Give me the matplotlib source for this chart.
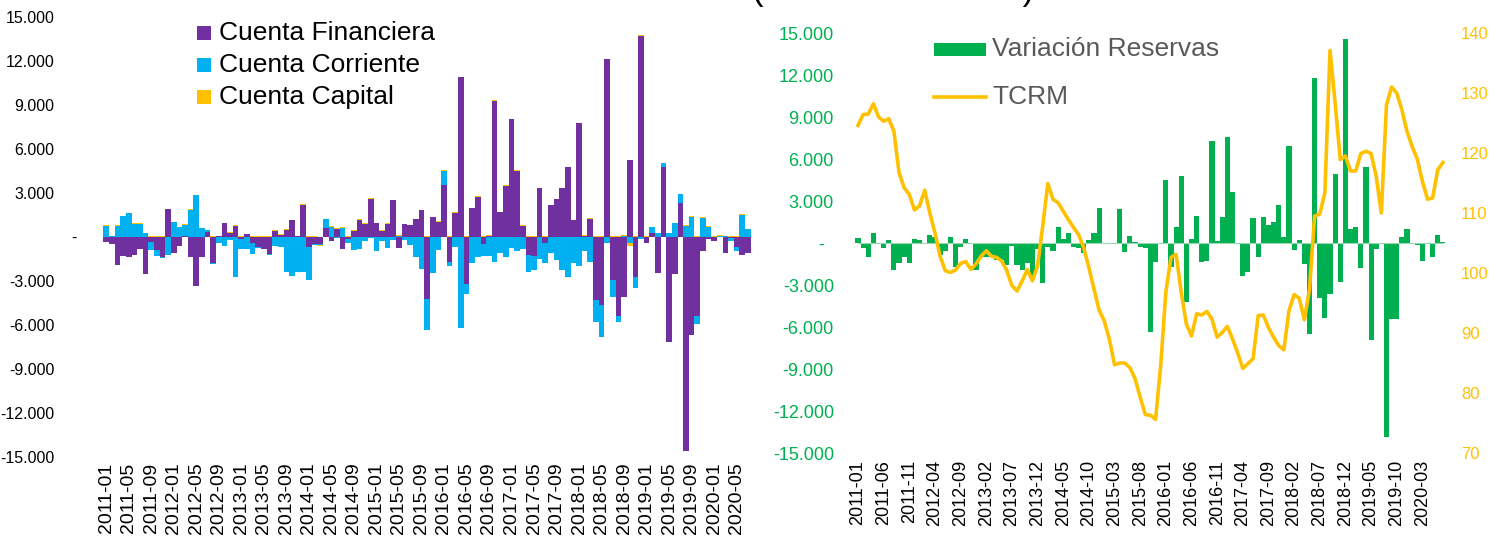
import matplotlib
matplotlib.use('Agg')
import matplotlib.pyplot as plt
from matplotlib.patches import Rectangle
from matplotlib.lines import Line2D
from matplotlib.ticker import FuncFormatter, FixedLocator

plt.rcParams['font.family'] = ['Liberation Sans', 'DejaVu Sans']

months = [f"{y}-{m:02d}" for y in range(2011, 2021) for m in range(1, 13)][:115]

cuenta_financiera = [
    -320, -500, -1900, -1300, -1370, -1220, -820, -2510, -360, -860,
    -1370, 1900, -1100, -600, 80, -1330, -3370, -1330, 320, -1740,
    50, 930, 300, 750, -140, 180, -390, -700, -800, -1140,
    430, 140, 480, 1140, 50, 2200, -700, -480, -480, 640,
    -300, 570, -840, -150, 410, 1180, 900, 2620, 930, 410,
    910, 2500, -730, 870, 800, 1200, 1810, -4240, 1330, 1030,
    3550, -1730, 1670, 10880, -3200, 1950, 2750, -480, 100, 9270,
    1680, 3480, 8020, 4520, 760, -1200, -1300, 3320, -390, 2160,
    2570, 3320, 4750, 1140, 7750, 100, 1230, -4300, -4630, 12110,
    -2940, -5370, -4110, 5230, -2750, 13730, -390, 250, -2480, 4800,
    -7160, -2520, 2340, -14570, -6680, -5390, -950, -150, -250, 0,
    -1110, -50, -660, -1250, -1110]

cuenta_corriente = [
    750, 50, 750, 1400, 1630, 900, 900, 260, -550, -450,
    -50, -1220, 1000, 670, 760, 1850, 2850, 580, 150, -110,
    -430, -590, -200, -2700, -660, -850, -770, -80, -50, -90,
    -610, -700, -2400, -2650, -2360, -2360, -2200, -50, -50, 570,
    700, -100, 640, -230, -890, -840, -300, -100, -930, -270,
    -730, -200, 90, -200, -560, -1340, -2160, -2110, -2450, -910,
    970, -230, -650, -6180, -680, -1750, -1340, -800, -1300, -1680,
    -1100, -1390, -750, -930, -800, -1200, -950, -1500, -1400, -1110,
    -1570, -2250, -2750, -1800, -1950, -950, -1680, -1500, -2200, -390,
    -1180, -400, 90, -390, -750, -110, 0, 410, 250, 230,
    250, 930, 570, 770, 1390, -520, 1320, 700, 0, 70,
    50, -250, -270, 1500, 520]

cuenta_capital = [
    40, 40, 40, 40, 40, 40, 40, 40, 40, 40,
    40, 40, 40, 40, 40, 40, 40, 40, 40, 40,
    40, 40, 40, 40, 40, 40, 40, 40, 40, 40,
    40, 40, 40, 40, 40, 40, 40, 40, -80, 40,
    40, 40, 40, 40, 40, 40, 40, 40, 40, 40,
    40, 40, 40, 40, 40, 40, 40, 40, 40, 40,
    40, 40, 40, 40, 40, 40, 40, 40, 40, 40,
    40, 40, 40, 40, 40, 40, 40, 40, 40, 40,
    40, 40, 40, 40, 40, 40, 40, 40, 40, 40,
    40, 40, 40, -200, 40, 40, 40, 40, 40, 40,
    40, 40, 40, 40, 40, 40, 40, 40, 40, 40,
    40, 40, 40, 40, 40]

variacion_reservas = [
    380, -380, -1020, 690, -100, -380, 210, -1930, -1450, -1020,
    -1450, 310, 210, 0, 600, 450, -860, -550, 400, -1700,
    -260, 260, -100, -1930, -1020, -1020, -1020, -1200, -1200, -1570,
    -200, -1570, -1930, -1450, -2400, -400, -2830, -300, -550, 1170,
    260, 690, -260, -380, -740, 210, 690, 2480, 0, 0,
    0, 2400, -670, 500, 70, -310, -380, -6330, -1380, 0,
    4500, -1690, 1170, 4790, -4190, 290, 1950, -1380, -1260, 7290,
    170, 1880, 7550, 3670, -100, -2330, -2050, 1790, -1020, 1830,
    1310, 1520, 2690, 450, 6930, -500, 210, -1500, -6520, 11760,
    -3900, -5380, -3670, 4930, -2790, 14570, 980, 1120, -1810, 5450,
    -6930, -450, 0, -13830, -5450, -5450, 450, 1020, 0, -140,
    -1260, 0, -1020, 600, 100]

tcrm = [
    124.6, 126.4, 126.5, 128.2, 126.0, 125.3, 125.7, 123.6, 116.7, 114.2,
    113.1, 110.5, 111.2, 113.8, 110.0, 106.7, 102.8, 100.4, 100.1, 100.5,
    101.6, 101.9, 100.6, 101.5, 102.8, 103.7, 102.8, 102.6, 102.0, 100.4,
    97.9, 97.0, 98.7, 100.6, 98.7, 101.2, 107.8, 114.9, 112.3, 111.7,
    110.3, 108.9, 107.6, 106.4, 104.2, 100.9, 97.3, 93.8, 92.0, 88.9,
    84.7, 85.0, 85.0, 84.2, 82.4, 79.3, 76.4, 76.3, 75.6, 84.6,
    96.8, 102.6, 103.1, 96.8, 91.5, 89.5, 93.2, 93.0, 93.6, 92.3,
    89.3, 90.1, 91.1, 89.0, 86.7, 84.1, 84.9, 85.7, 92.9, 93.0,
    90.9, 89.3, 87.9, 87.2, 93.7, 96.4, 95.8, 92.2, 97.3, 109.5,
    109.8, 113.4, 137.1, 128.3, 118.9, 119.5, 117.0, 117.0, 119.9, 120.3,
    119.9, 116.1, 110.0, 128.0, 131.0, 130.0, 127.2, 123.6, 121.1, 119.0,
    115.3, 112.3, 112.5, 117.2, 118.4]

C_FIN = '#7030A0'
C_CC = '#00B0F0'
C_CAP = '#FFC000'
C_RES = '#00B050'
C_TCRM = '#FFC000'
GRAY = '#595959'

W, H = 1505, 539
fig = plt.figure(figsize=(W / 100, H / 100), dpi=100)


def fbox(x0, y0, x1, y1):
    return [x0 / W, 1 - y1 / H, (x1 - x0) / W, (y1 - y0) / H]


def thousands(v, pos=None):
    return f"{v:,.0f}".replace(',', '.')


def dash(v, pos=None):
    return '-'


x = list(range(len(months)))
nonzero_ticks = [v for v in range(-15000, 15001, 3000) if v != 0]

# ---------------- left chart ----------------
ax1 = fig.add_axes(fbox(100, 17, 753, 457))
pos_bot = [0.0] * len(x)
neg_bot = [0.0] * len(x)
for vals, col in [(cuenta_financiera, C_FIN), (cuenta_corriente, C_CC), (cuenta_capital, C_CAP)]:
    bots = []
    for i, v in enumerate(vals):
        if v >= 0:
            bots.append(pos_bot[i]); pos_bot[i] += v
        else:
            bots.append(neg_bot[i]); neg_bot[i] += v
    ax1.bar(x, vals, bottom=bots, width=1.0, color=col, linewidth=0)
ax1.set_xlim(-1.1, 114.9)
ax1.set_ylim(-15000, 15000)
ax1.yaxis.set_major_locator(FixedLocator(nonzero_ticks))
ax1.yaxis.set_major_formatter(FuncFormatter(thousands))
ax1.yaxis.set_minor_locator(FixedLocator([0]))
ax1.yaxis.set_minor_formatter(FuncFormatter(dash))
ax1.set_xticks(x[::4])
ax1.set_xticklabels(months[::4], rotation=90, fontsize=14)
ax1.tick_params(axis='x', length=0, pad=4)
ax1.tick_params(axis='y', which='major', length=0, pad=33, labelsize=11.5)
ax1.tick_params(axis='y', which='minor', length=0, pad=17, labelsize=11.5)
for s in ax1.spines.values():
    s.set_visible(False)

# left legend
for k, (lab, col) in enumerate([('Cuenta Financiera', C_FIN), ('Cuenta Corriente', C_CC), ('Cuenta Capital', C_CAP)]):
    yc = 33 + 32 * k
    fig.patches.append(Rectangle((197 / W, 1 - (yc + 7) / H), 14 / W, 14 / H,
                                 transform=fig.transFigure, color=col, lw=0))
    fig.text(219 / W, 1 - yc / H, lab, fontsize=19, va='center', ha='left', color='black')

# ---------------- right chart ----------------
ax2 = fig.add_axes(fbox(852, 33, 1447, 453))
ax2.bar(x, variacion_reservas, width=1.0, color=C_RES, linewidth=0)
ax2.plot([0, 114], [0, 0], color='#9BD9B3', lw=0.8, zorder=1)
ax2.set_xlim(-1.17, 114.8)
ax2.set_ylim(-15000, 15000)
ax2.yaxis.set_major_locator(FixedLocator(nonzero_ticks))
ax2.yaxis.set_major_formatter(FuncFormatter(thousands))
ax2.yaxis.set_minor_locator(FixedLocator([0]))
ax2.yaxis.set_minor_formatter(FuncFormatter(dash))
ax2.set_xticks(x[::5])
ax2.set_xticklabels(months[::5], rotation=90, fontsize=13)
ax2.tick_params(axis='x', length=0, pad=5)
ax2.tick_params(axis='y', which='major', length=0, pad=13, labelsize=13, labelcolor=C_RES)
ax2.tick_params(axis='y', which='minor', length=0, pad=20, labelsize=13, labelcolor=C_RES)
for s in ax2.spines.values():
    s.set_visible(False)

ax3 = ax2.twinx()
ax3.plot(x, tcrm, color=C_TCRM, lw=2.6, solid_joinstyle='round')
ax3.set_ylim(70, 140)
ax3.set_yticks(list(range(70, 141, 10)))
ax3.tick_params(axis='y', length=0, pad=10, labelsize=12, labelcolor=C_TCRM)
for s in ax3.spines.values():
    s.set_visible(False)

# right legend
fig.patches.append(Rectangle((934 / W, 1 - 56 / H), 52 / W, 13 / H,
                             transform=fig.transFigure, color=C_RES, lw=0))
fig.text(992 / W, 1 - 49 / H, 'Variación Reservas', fontsize=19,
         va='center', ha='left', color=GRAY)
fig.lines.append(Line2D([934 / W, 986 / W], [1 - 97 / H, 1 - 97 / H], transform=fig.transFigure,
                        color=C_TCRM, lw=2.6))
fig.text(992 / W, 1 - 97 / H, 'TCRM', fontsize=19, va='center', ha='left', color=GRAY)

# title, cut off by the top edge exactly as in the source image
fig.text(893.5 / W, 1.0, '(Millones de USD)', fontsize=25, ha='center', va='baseline',
         color='black')

fig.savefig('out.png', dpi=100)
